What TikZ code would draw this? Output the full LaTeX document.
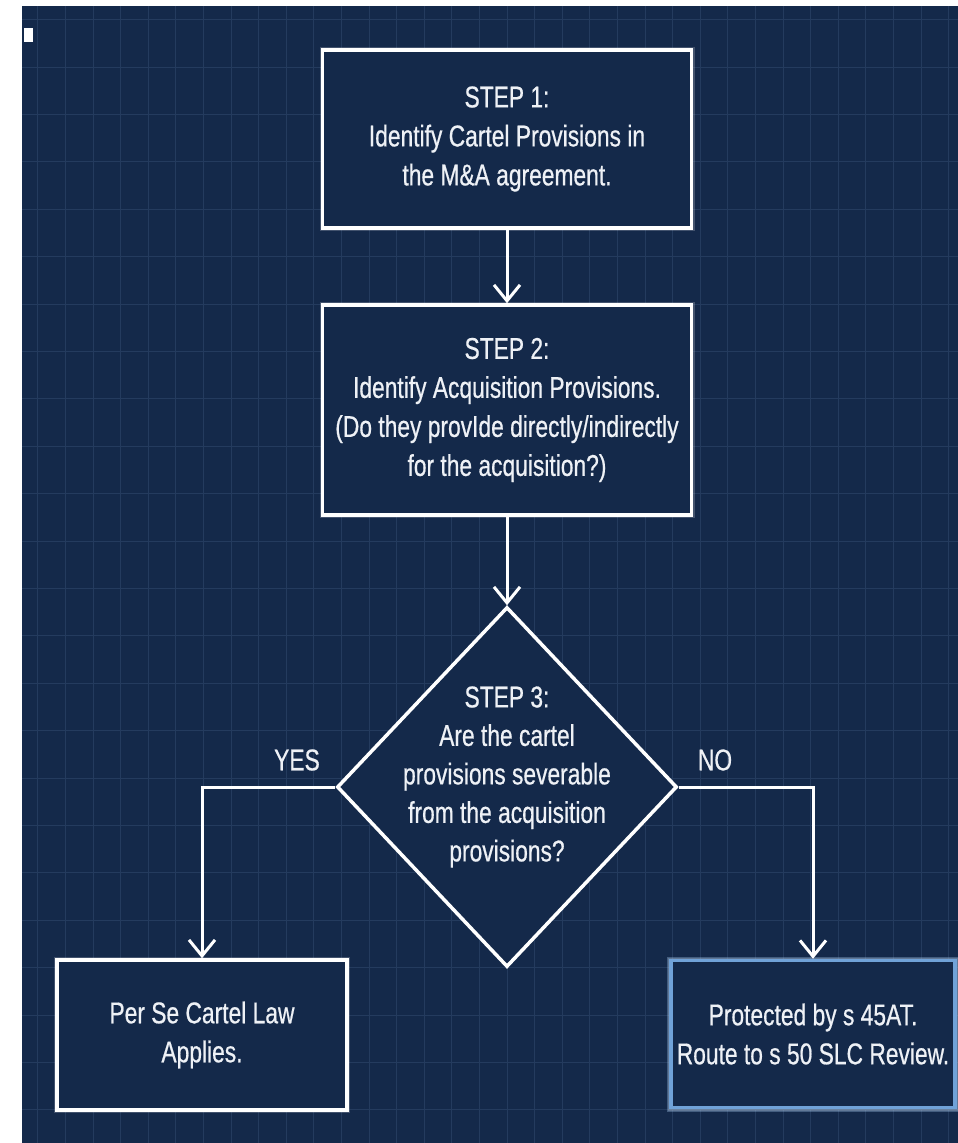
\documentclass[tikz,border=0pt]{standalone}
\usepackage{fontspec}
\setmainfont[FakeStretch=0.76, FakeBold=0.6]{Liberation Sans}
\usepackage{tikz}
\usetikzlibrary{positioning, arrows.meta, shapes.geometric}

\definecolor{navy}{RGB}{20,41,74}
\definecolor{gridline}{RGB}{36,59,94}
\definecolor{paleblue}{RGB}{112,162,216}
\definecolor{inkwhite}{RGB}{238,241,246}

\tikzset{
	stepbox/.style = {draw = white, fill = navy, line width = 3.5pt, rectangle, align = center, text = inkwhite, inner sep = 0pt, font = \fontsize{30}{39}\selectfont, preaction = {draw = white, line width = 6pt, opacity = 0.2}},
	decision/.style = {draw = white, fill = navy, line width = 3.5pt, diamond, inner sep = 0pt, minimum width = 340pt, minimum height = 360pt},
	outcome/.style = {stepbox, draw = paleblue, preaction = {draw = paleblue!70, line width = 8pt, opacity = 0.35}},
	branchtext/.style = {text = inkwhite, font = \fontsize{30}{36}\selectfont},
	link/.style = {draw = white, line width = 3pt, -{Straight Barb[length = 16pt, width = 26pt]}}
}

\begin{document}
\begin{tikzpicture}[x = 1pt, y = -1pt]
		\useasboundingbox (0, 0) rectangle (958, 1143);
		\fill[navy] (22, 6) rectangle (958, 1143);
		% faint grid
		\foreach \gx in {0, ..., 33}
			\draw[gridline, line width = 0.8pt] (37.8 + 27.6*\gx, 6) -- (37.8 + 27.6*\gx, 1143);
		\foreach \gy in {0, ..., 23}
			\draw[gridline, line width = 0.8pt] (22, 19.6 + 47.4*\gy) -- (958, 19.6 + 47.4*\gy);
		\fill[white] (24, 28) rectangle (33, 42);

		\node[stepbox, minimum width = 369pt, minimum height = 178pt] (identify) at (507, 139) {STEP 1:\\Identify Cartel Provisions in\\the M\&A agreement.};
		\node[stepbox, minimum width = 369pt, minimum height = 210pt] (acquire) at (507, 410) {STEP 2:\\Identify Acquisition Provisions.\\(Do they provIde directly/indirectly\\for the acquisition?)};
		\node[decision] (sever) at (507, 787) {};
		\node[align = center, text = inkwhite, font = \fontsize{30}{38.5}\selectfont] (severtext) at (507, 777) {STEP 3:\\Are the cartel\\provisions severable\\from the acquisition\\provisions?};
		\node[stepbox, minimum width = 290pt, minimum height = 150pt] (perse) at (202, 1035) {Per Se Cartel Law\\Applies.};
		\node[outcome, minimum width = 284pt, minimum height = 147pt] (protect) at (813, 1034) {Protected by s 45AT.\\Route to s 50 SLC Review.};

		\node[branchtext] (yes) at (297, 760) {YES};
		\node[branchtext] (no) at (715, 760) {NO};

		\draw[link] (identify) -- (acquire);
		\draw[link] (acquire) -- (sever);
		\draw[link] (sever.west) -| (perse.north);
		\draw[link] (sever.east) -| (protect.north);
		\end{tikzpicture}
\end{document}
